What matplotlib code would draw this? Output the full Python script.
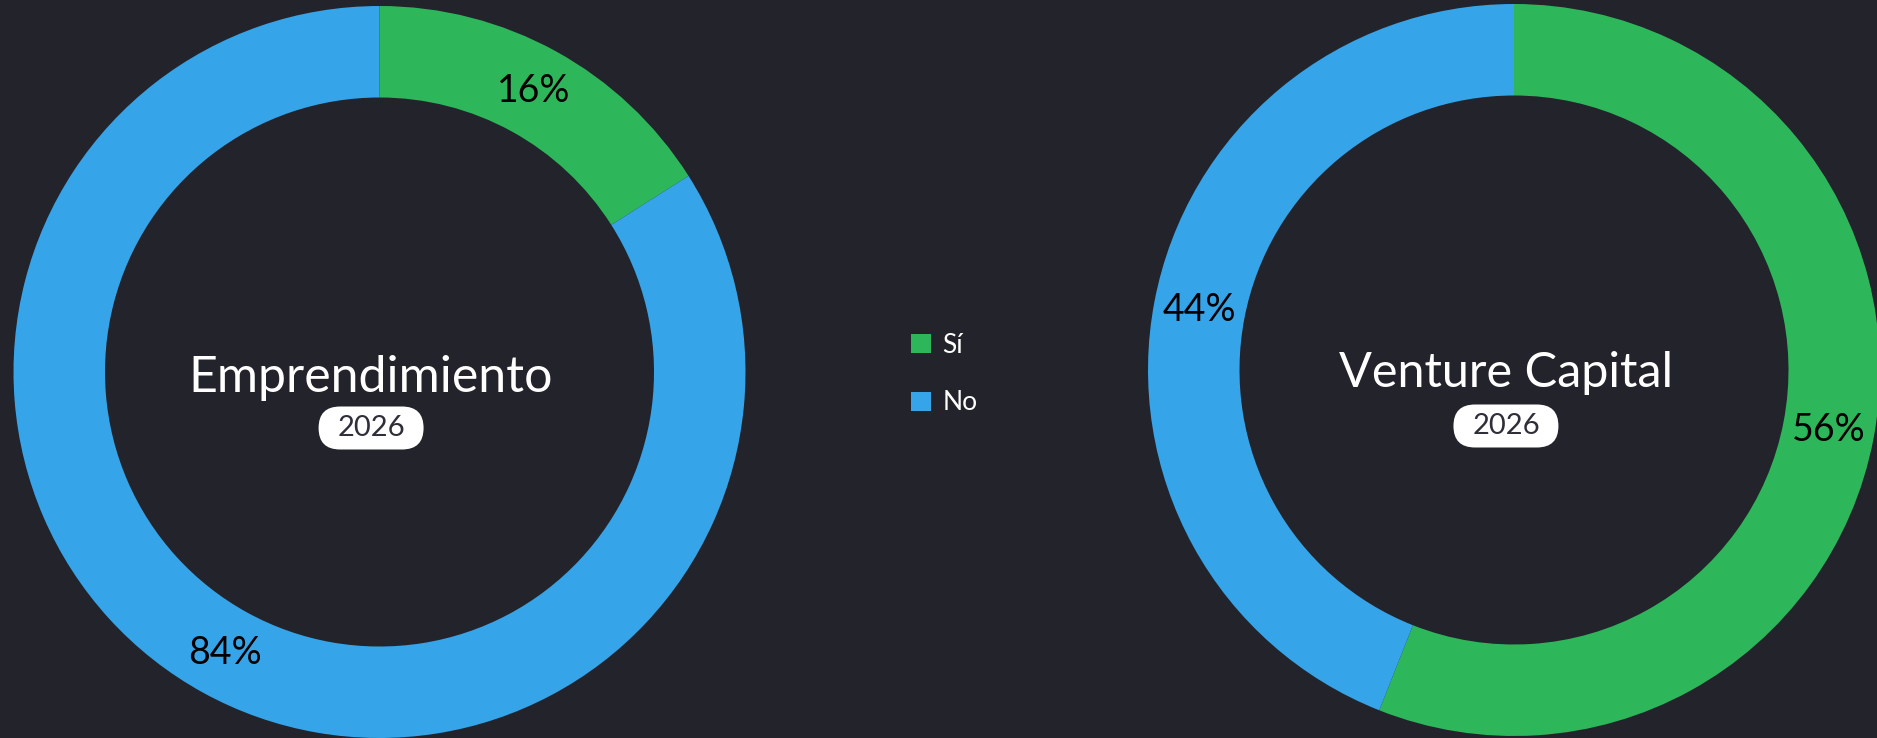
import matplotlib.pyplot as plt
from matplotlib.patches import FancyBboxPatch

# data
charts = ['Emprendimiento', 'Venture Capital']
year = '2026'
labels = ['Sí', 'No']
emprendimiento = [16, 84]
venture = [56, 44]

bg = '#22232b'
colors = ['#2db75a', '#36a4e8']

plt.rcParams['font.family'] = ['Lato', 'DejaVu Sans']

W, H = 1877, 738
fig = plt.figure(figsize=(W / 100, H / 100), dpi=100, facecolor=bg)


def donut(rect, values, title, tsize, dx, dy_title, dy_year):
    ax = fig.add_axes(rect)
    ax.set_facecolor(bg)
    wedges, texts, autotexts = ax.pie(values, colors=colors, startangle=90, counterclock=False,
                                      radius=1, wedgeprops=dict(width=0.25, linewidth=0),
                                      autopct='%d%%', pctdistance=0.875,
                                      textprops=dict(color='black', fontsize=27))
    ax.set_xlim(-1, 1)
    ax.set_ylim(-1, 1)
    ax.set_aspect('auto')
    ax.axis('off')
    ax.text(dx, dy_title, title, color='white', fontsize=tsize, ha='center', va='center')
    # pill behind the year (105x43 px, radius 366 px)
    pw, ph = 105 / 366, 43 / 366
    ax.add_patch(FancyBboxPatch((dx - pw / 2 + ph / 2, dy_year), pw - ph, 0,
                                boxstyle=f'round,pad={ph / 2},rounding_size={ph / 2}',
                                fc='white', ec='none'))
    ax.text(dx, dy_year, year, color='#2e2f38', fontsize=21, ha='center', va='center')
    return wedges


# axes placed in pixel units, ring radius 366 px
w1 = donut([13.5 / W, 0 / H, 732 / W, 732 / H], emprendimiento, charts[0], 36, -0.023, -0.017, -0.153)
donut([1148 / W, 2 / H, 732 / W, 732 / H], venture, charts[1], 35, -0.022, -0.007, -0.153)

fig.legend(w1, labels, loc='center left', bbox_to_anchor=(887 / W, 1 - 374 / H),
           frameon=False, fontsize=19, labelcolor='white', handlelength=0.75,
           handleheight=0.75, handletextpad=0.45, labelspacing=1.25)

fig.savefig('out.png', dpi=100, facecolor=bg)
